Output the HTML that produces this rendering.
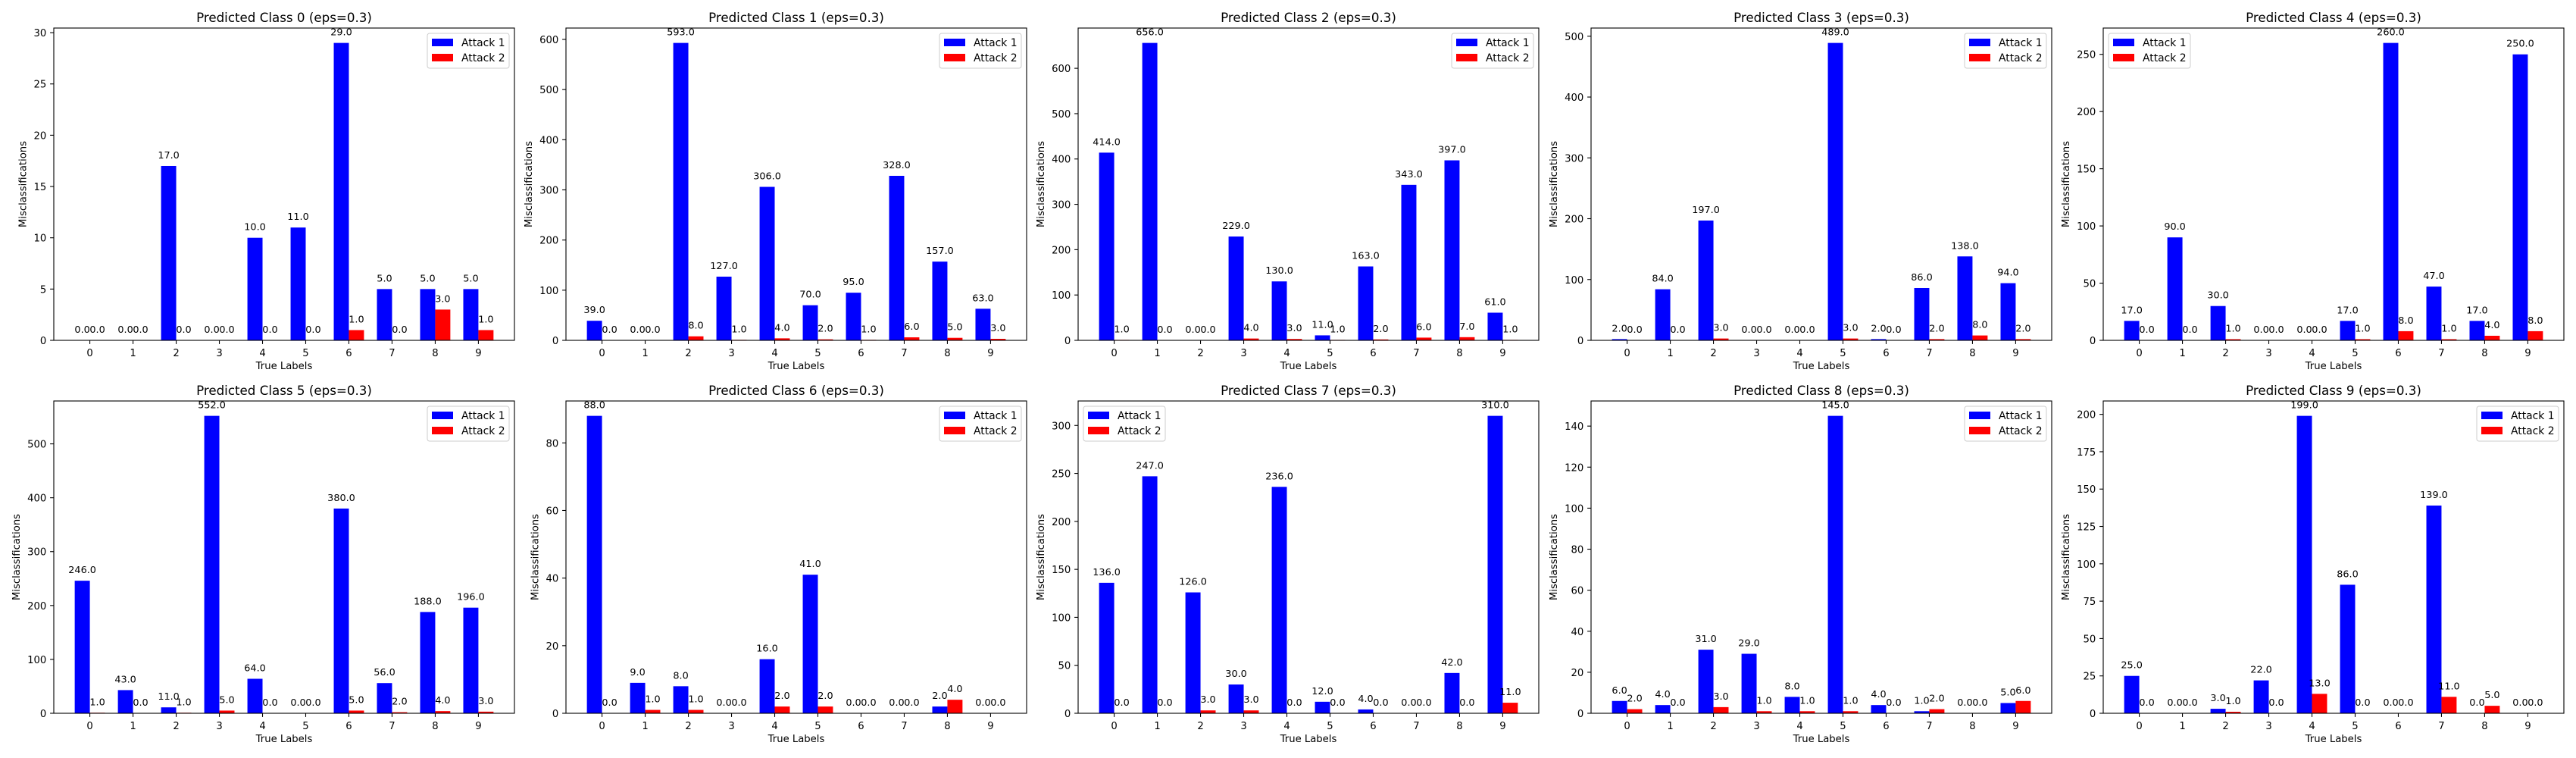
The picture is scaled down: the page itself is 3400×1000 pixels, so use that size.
<!DOCTYPE html>
<html><head><meta charset="utf-8"><style>
html,body{margin:0;padding:0;background:#fff;}
svg{display:block;font-family:"DejaVu Sans","Liberation Sans",sans-serif;}
</style></head><body>
<svg id="fig" width="3400" height="1000" viewBox="0 0 3400 1000" xmlns="http://www.w3.org/2000/svg"></svg>
<script>
const trueLabels = [0,1,2,3,4,5,6,7,8,9];
const attack1Values = [
 [0,0,17,0,10,11,29,5,5,5],
 [39,0,593,127,306,70,95,328,157,63],
 [414,656,0,229,130,11,163,343,397,61],
 [2,84,197,0,0,489,2,86,138,94],
 [17,90,30,0,0,17,260,47,17,250],
 [246,43,11,552,64,0,380,56,188,196],
 [88,9,8,0,16,41,0,0,2,0],
 [136,247,126,30,236,12,4,0,42,310],
 [6,4,31,29,8,145,4,1,0,5],
 [25,0,3,22,199,86,0,139,0,0]
];
const attack2Values = [
 [0,0,0,0,0,0,1,0,3,1],
 [0,0,8,1,4,2,1,6,5,3],
 [1,0,0,4,3,1,2,6,7,1],
 [0,0,3,0,0,3,0,2,8,2],
 [0,0,1,0,0,1,8,1,4,8],
 [1,0,1,5,0,0,5,2,4,3],
 [0,1,1,0,2,2,0,0,4,0],
 [0,0,3,3,0,0,0,0,0,11],
 [2,0,3,1,1,1,0,2,0,6],
 [0,0,1,0,13,0,0,11,5,0]
];
const yTickSteps = [5,100,100,100,50,100,20,50,20,25];
const legendSides = ['right','right','right','right','left','right','right','left','right','right'];
const seriesNames = ['Attack 1','Attack 2'];

const NS='http://www.w3.org/2000/svg';
const fig=document.getElementById('fig');
function mk(tag,attrs,parent){const e=document.createElementNS(NS,tag);for(const k in attrs)e.setAttribute(k,attrs[k]);(parent||fig).appendChild(e);return e;}

const W=608,H=412;
const lefts=[71,747,1423,2100,2776];
const tops=[37,529];
const FS=13.2;
const VFS=12.8;

for(let p=0;p<10;p++){
  const L=lefts[p%5],T=tops[Math.floor(p/5)],B=T+H,R=L+W;
  const a1=attack1Values[p],a2=attack2Values[p];
  const g=mk('g',{});
  
  
  const maxV=Math.max(...a1,...a2);
  const yMax=maxV*1.05||1;
  const xMin=-0.35-0.485,xMax=9.35+0.485;
  const xs=v=>L+(v-xMin)/(xMax-xMin)*W;
  const ys=v=>B-v/yMax*H;
  trueLabels.forEach((lab,i)=>{
    const bw=xs(0.35)-xs(0);
    const r1=mk('rect',{x:xs(lab-0.35),y:ys(a1[i]),width:bw,height:B-ys(a1[i]),fill:'#0000ff'},g);
    
    
    const r2=mk('rect',{x:xs(lab),y:ys(a2[i]),width:bw,height:B-ys(a2[i]),fill:'#ff0000'},g);
    
    
    const t1=mk('text',{x:xs(lab-0.175),y:ys(a1[i])-10,'text-anchor':'middle','font-size':VFS,fill:'#000'},g);
    t1.textContent=a1[i].toFixed(1);
    
    
    const t2=mk('text',{x:xs(lab+0.175),y:ys(a2[i])-10,'text-anchor':'middle','font-size':VFS,fill:'#000'},g);
    t2.textContent=a2[i].toFixed(1);
    
    
    mk('line',{x1:xs(lab),x2:xs(lab),y1:B,y2:B+4.9,stroke:'#000','stroke-width':1.1},g);
    const xt=mk('text',{x:xs(lab),y:B+21,'text-anchor':'middle','font-size':FS},g);
    xt.textContent=lab;
    
    
  });
  const step=yTickSteps[p];let maxW=0;
  for(let v=0;v<=yMax+1e-9;v+=step){
    mk('line',{x1:L-4.9,x2:L,y1:ys(v),y2:ys(v),stroke:'#000','stroke-width':1.1},g);
    const yt=mk('text',{x:L-9.7,y:ys(v)+5,'text-anchor':'end','font-size':FS},g);
    yt.textContent=v;
    
    
    maxW=Math.max(maxW,String(v).length*8.4);
  }
  mk('rect',{x:L,y:T,width:W,height:H,fill:'none',stroke:'#000','stroke-width':1.1},g);
  const tt=mk('text',{x:L+W/2,y:T-8,'text-anchor':'middle','font-size':16.7},g);
  tt.textContent='Predicted Class '+p+' (eps=0.3)';
  
  
  const xl=mk('text',{x:L+W/2,y:B+38,'text-anchor':'middle','font-size':FS},g);
  xl.textContent='True Labels';
  
  
  const yx=L-9.7-maxW-6-4;
  const yl=mk('text',{x:yx,y:T+H/2,'text-anchor':'middle','font-size':FS,transform:'rotate(-90 '+yx+' '+(T+H/2)+')'},g);
  yl.textContent='Misclassifications';
  
  
  const lw=108,lh=46;
  const lx=legendSides[p]==='right'?R-7-lw:L+7, ly=T+7;
  const lg=mk('g',{},g);
  
  
  mk('rect',{x:lx,y:ly,width:lw,height:lh,rx:3,fill:'#fff','fill-opacity':0.8,stroke:'#cccccc','stroke-width':1},lg);
  ['#0000ff','#ff0000'].forEach((c,k)=>{
    const ey=ly+7+k*20;
    mk('rect',{x:lx+6,y:ey,width:28,height:10,fill:c},lg);
    const lt=mk('text',{x:lx+45,y:ey+10,'font-size':13.9},lg);
    lt.textContent=seriesNames[k];
    
    
  });
}
</script>
</body></html>
